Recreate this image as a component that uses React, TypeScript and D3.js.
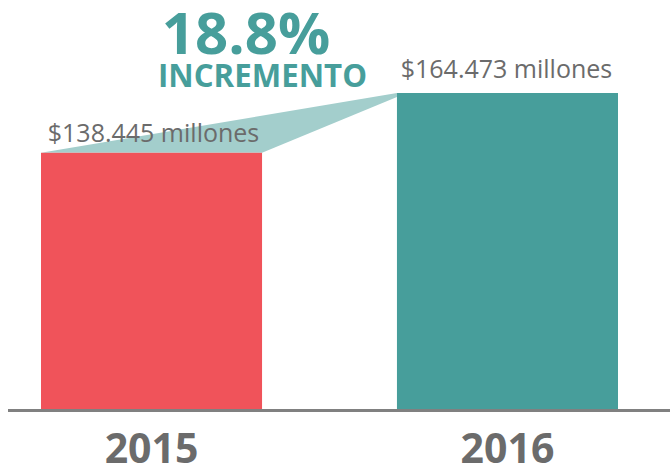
import React from "react";
import * as d3 from "d3";

const years = ["2015", "2016"];
const values = [138.445, 164.473];
const valueLabels = ["$138.445 millones", "$164.473 millones"];
const barColors = ["#F0535A", "#479E9B"];
const growthLabel = "18.8%";
const growthCaption = "INCREMENTO";

const W = 670;
const H = 467;
const baseY = 409;
const font = "'Open Sans', 'DejaVu Sans', sans-serif";

export default function App() {
  const x = d3.scaleBand<string>().domain(years).range([41, 618]).paddingInner(0.379).paddingOuter(0);
  const y = d3.scaleLinear().domain([26.9, 164.473]).range([baseY, 93]);
  const bw = x.bandwidth();

  const x0 = x(years[0])!;
  const x1 = x(years[1])!;
  const y0 = y(values[0]);
  const y1 = y(values[1]);
  const tri = [
    [x0, y0],
    [x0 + bw, y0],
    [x1, y1 + 4],
    [x1, y1],
  ];
  const triPath = d3.line()(tri as [number, number][]) + "Z";

  return (
    <svg
      width={W}
      height={H}
      style={{ position: "absolute", left: 0, top: 0, display: "block" }}
    >
      <rect width={W} height={H} fill="#ffffff" />
      <path d={triPath} fill="#A3CECC" />
      {years.map((yr, i) => (
        <rect
          key={yr}
          x={x(yr)}
          y={y(values[i])}
          width={bw}
          height={baseY - y(values[i])}
          fill={barColors[i]}
        />
      ))}
      <line x1={8} x2={W} y1={410.5} y2={410.5} stroke="#808080" strokeWidth={3} />
      {years.map((yr, i) => (
        <text
          key={"v" + yr}
          x={x(yr)! + bw / 2 + (i === 0 ? 2 : -1)}
          y={y(values[i]) - (i === 0 ? 11 : 15)}
          textAnchor="middle"
          fontFamily={font}
          fontSize={25}
          fill="#6B6B6B"
        >
          {valueLabels[i]}
        </text>
      ))}
      {years.map((yr) => (
        <text
          key={"y" + yr}
          x={x(yr)! + bw / 2}
          y={463}
          textAnchor="middle"
          fontFamily={font}
          fontWeight={700}
          fontSize={41}
          fill="#6B6B6B"
        >
          {yr}
        </text>
      ))}
      <text
        x={246}
        y={54}
        textAnchor="middle"
        fontFamily={font}
        fontWeight={700}
        fontSize={58}
        fill="#479E9B"
      >
        {growthLabel}
      </text>
      <text
        x={158}
        y={87}
        textLength={209}
        lengthAdjust="spacingAndGlyphs"
        fontFamily={font}
        fontWeight={700}
        fontSize={33}
        fill="#479E9B"
      >
        {growthCaption}
      </text>
    </svg>
  );
}
